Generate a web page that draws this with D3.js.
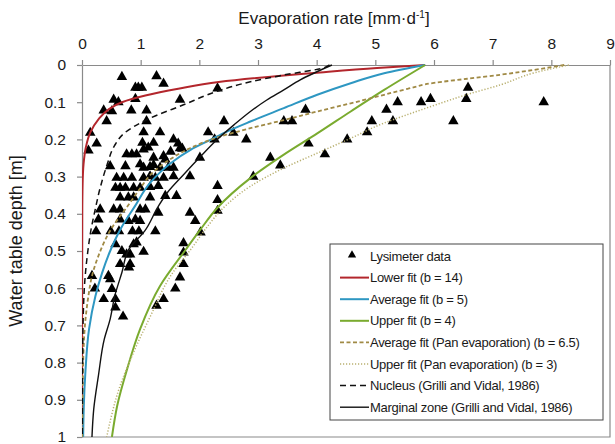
<!DOCTYPE html>
<html>
<head>
<meta charset="utf-8">
<script src="https://cdn.jsdelivr.net/npm/d3@7"></script>
<style>
  body { margin: 0; background: #fff; }
  text { font-family: "Liberation Sans", Arial, sans-serif; fill: #1a1a1a; }
</style>
</head>
<body>
<svg id="chart" width="615" height="444"></svg>
<script>
// ---- data ----
var xTicks = [0, 1, 2, 3, 4, 5, 6, 7, 8, 9];
var yTicks = [0, 0.1, 0.2, 0.3, 0.4, 0.5, 0.6, 0.7, 0.8, 0.9, 1];

// lysimeter data (evaporation rate, depth)
var lysRate = [0.68,1.27,1.39,0.91,0.96,1.02,0.54,0.62,0.91,1.67,0.37,0.51,0.84,1.10,0.42,1.10,0.14,1.05,1.33,0.25,1.03,1.22,1.56,1.64,
  2.31,2.15,2.42,2.58,2.80,2.26,3.44,3.58,3.81,3.86,4.52,4.14,3.21,3.38,2.92,2.31,4.94,4.86,5.19,5.30,5.38,5.78,5.94,6.58,6.55,6.33,7.87,2.31,2.31,1.51,1.71,
  0.11,0.76,0.85,0.93,1.05,1.13,1.22,1.39,1.42,1.67,2.01,0.48,0.74,0.99,1.05,1.16,1.22,1.33,1.47,1.56,0.59,0.71,0.85,1.05,1.16,1.25,1.39,1.56,1.84,
  0.57,0.65,0.74,0.88,0.99,1.16,1.30,1.42,1.61,1.16,0.65,0.79,0.88,0.31,0.54,0.65,0.99,1.08,1.30,1.84,1.93,0.28,0.65,0.79,0.91,0.99,
  0.24,0.49,0.63,0.86,0.97,1.25,2.02,0.57,0.88,0.93,0.68,0.76,0.82,1.05,0.65,0.82,0.80,0.17,0.45,0.48,0.22,0.51,0.37,0.57,0.57,0.70,
  1.73,1.73,1.73,1.67,1.59,1.39,1.27];
var lysDepth = [0.032,0.030,0.050,0.061,0.061,0.061,0.093,0.100,0.091,0.093,0.122,0.124,0.122,0.122,0.151,0.151,0.182,0.181,0.181,0.211,0.209,0.209,0.200,0.211,
  0.063,0.181,0.151,0.182,0.200,0.200,0.151,0.151,0.120,0.211,0.200,0.240,0.249,0.270,0.300,0.325,0.151,0.181,0.120,0.151,0.100,0.100,0.091,0.061,0.091,0.151,0.100,0.363,0.392,0.233,0.225,
  0.230,0.240,0.240,0.240,0.227,0.222,0.249,0.245,0.254,0.224,0.249,0.272,0.272,0.267,0.276,0.274,0.269,0.276,0.276,0.276,0.303,0.303,0.303,0.303,0.299,0.303,0.303,0.299,0.299,
  0.330,0.330,0.330,0.330,0.330,0.328,0.325,0.352,0.352,0.356,0.356,0.356,0.356,0.388,0.388,0.388,0.388,0.388,0.397,0.397,0.419,0.415,0.415,0.419,0.415,0.419,
  0.447,0.447,0.447,0.447,0.447,0.447,0.450,0.482,0.482,0.477,0.500,0.509,0.509,0.502,0.535,0.535,0.544,0.567,0.567,0.576,0.601,0.602,0.629,0.629,0.652,0.676,
  0.479,0.504,0.535,0.571,0.601,0.629,0.647];

// Lower fit (b = 14)
var lowerDepth = [0, 0.008, 0.02, 0.046, 0.064, 0.082, 0.1, 0.12, 0.146, 0.182, 0.222, 0.267, 0.32, 0.4, 0.6, 0.8, 1.0];
var lowerRate  = [5.85, 5.03, 4.06, 2.33, 1.64, 1.08, 0.68, 0.45, 0.28, 0.14, 0.065, 0.026, 0.01, 0.004, 0.002, 0.001, 0.001];

// Average fit (b = 5)
var avgDepth = [0, 0.022, 0.049, 0.08, 0.116, 0.152, 0.179, 0.201, 0.228, 0.264, 0.317, 0.38, 0.44, 0.5, 0.56, 0.62, 0.71, 0.82, 0.92, 1.0];
var avgRate  = [5.85, 5.15, 4.58, 4.01, 3.44, 2.87, 2.47, 2.19, 1.85, 1.51, 1.16, 0.9, 0.66, 0.48, 0.34, 0.23, 0.12, 0.06, 0.03, 0.02];

// Upper fit (b = 4)
var upperDepth = [0, 0.067, 0.125, 0.184, 0.241, 0.304, 0.385, 0.442, 0.496, 0.594, 0.71, 0.817, 0.916, 1.0];
var upperRate  = [5.85, 5.15, 4.58, 4.01, 3.44, 2.87, 2.30, 2.02, 1.77, 1.33, 0.99, 0.77, 0.60, 0.51];

// Average fit, pan evaporation (b = 6.5)
var panAvgDepth = [0, 0.013, 0.026, 0.037, 0.048, 0.064, 0.08, 0.103, 0.125, 0.148, 0.17, 0.195, 0.223, 0.259, 0.295, 0.33, 0.383, 0.44, 0.513, 0.567, 0.62, 0.683, 0.8, 1.0];
var panAvgRate  = [8.22, 7.71, 7.14, 6.57, 6.00, 5.55, 5.15, 4.58, 4.01, 3.44, 2.87, 2.30, 1.85, 1.45, 1.17, 1.0, 0.76, 0.5, 0.28, 0.17, 0.11, 0.06, 0.02, 0.005];

// Upper fit, pan evaporation (b = 3)
var panUpDepth = [0, 0.021, 0.053, 0.079, 0.106, 0.136, 0.156, 0.197, 0.237, 0.277, 0.326, 0.375, 0.442, 0.486, 0.567, 0.674, 0.772, 0.862, 1.0];
var panUpRate  = [8.3, 7.71, 7.14, 6.57, 6.05, 5.5, 5.15, 4.58, 4.01, 3.44, 2.87, 2.47, 2.1, 1.9, 1.51, 1.17, 0.88, 0.65, 0.42];

// Nucleus (Grilli and Vidal, 1986)
var nucDepth = [0, 0.007, 0.027, 0.045, 0.071, 0.107, 0.146, 0.182, 0.218, 0.267, 0.33, 0.392, 0.446, 0.5, 0.576, 0.68, 0.8, 1.0];
var nucRate  = [4.22, 4.13, 3.44, 2.87, 2.30, 1.73, 1.12, 0.73, 0.55, 0.43, 0.31, 0.22, 0.15, 0.1, 0.05, 0.02, 0.01, 0.005];

// Marginal zone (Grilli and Vidal, 1986)
var margDepth = [0, 0.04, 0.067, 0.094, 0.125, 0.161, 0.201, 0.246, 0.295, 0.344, 0.383, 0.446, 0.495, 0.558, 0.62, 0.683, 0.737, 0.835, 0.925, 1.0];
var margRate  = [4.26, 3.72, 3.44, 3.15, 2.87, 2.59, 2.30, 2.02, 1.73, 1.45, 1.29, 1.07, 0.8, 0.68, 0.56, 0.48, 0.38, 0.28, 0.20, 0.17];

var seriesNames = ["Lysimeter data", "Lower fit (b = 14)", "Average fit (b = 5)", "Upper fit (b = 4)",
  "Average fit (Pan evaporation) (b = 6.5)", "Upper fit (Pan evaporation) (b = 3)",
  "Nucleus (Grilli and Vidal, 1986)", "Marginal zone (Grilli and Vidal, 1986)"];

// ---- layout ----
var svg = d3.select("#chart");
var width = 615, height = 444;
var margin = {top: 65, right: 5, bottom: 7, left: 82};
var pw = width - margin.left - margin.right,
    ph = height - margin.top - margin.bottom;

var x = d3.scaleLinear().domain([0, 9]).range([0, pw]);
var y = d3.scaleLinear().domain([0, 1]).range([0, ph]);

var g = svg.append("g").attr("transform", "translate(" + margin.left + "," + margin.top + ")");

svg.append("defs").append("clipPath").attr("id", "plotclip")
  .append("rect").attr("x", 0).attr("y", -1).attr("width", pw).attr("height", ph + 1);

// right and bottom frame
g.append("path")
  .attr("d", "M" + pw + ",0V" + ph + "H0")
  .style("fill", "none").style("stroke", "#8a8a8a").style("stroke-width", 1.2);

var xAxis = g.append("g")
  .call(d3.axisTop(x).tickValues(xTicks).tickSize(5).tickSizeOuter(0).tickPadding(11).tickFormat(d3.format("d")));
var yAxis = g.append("g")
  .call(d3.axisLeft(y).tickValues(yTicks).tickSize(5).tickSizeOuter(0).tickPadding(11).tickFormat(d3.format("~g")));

[xAxis, yAxis].forEach(function(a) {
  a.selectAll("path, line").style("stroke", "#8a8a8a").style("stroke-width", 1.2);
  a.selectAll("text").style("font-size", "15.5px").style("fill", "#1a1a1a")
    .style("font-family", '"Liberation Sans", Arial, sans-serif');
});

// axis titles
var title = svg.append("text")
  .attr("x", margin.left + pw / 2 - 12).attr("y", 24)
  .attr("text-anchor", "middle").style("font-size", "17px");
title.append("tspan").text("Evaporation rate [mm·d");
title.append("tspan").text("-1").attr("dy", -6).style("font-size", "10px");
title.append("tspan").text("]").attr("dy", 6);

svg.append("text")
  .attr("transform", "translate(22," + (margin.top + ph / 2 - 10) + ") rotate(-90)")
  .attr("text-anchor", "middle").style("font-size", "18px")
  .text("Water table depth [m]");

// ---- marks ----
var curves = [
  {name: seriesNames[1], depth: lowerDepth,  rate: lowerRate,  color: "#b3262c", w: 2,   dash: null},
  {name: seriesNames[2], depth: avgDepth,    rate: avgRate,    color: "#2e97c2", w: 2,   dash: null},
  {name: seriesNames[3], depth: upperDepth,  rate: upperRate,  color: "#7aab2f", w: 2,   dash: null},
  {name: seriesNames[4], depth: panAvgDepth, rate: panAvgRate, color: "#a08a45", w: 1.8, dash: "4,2.5"},
  {name: seriesNames[5], depth: panUpDepth,  rate: panUpRate,  color: "#b9b070", w: 1.5, dash: "1.2,1.8"},
  {name: seriesNames[6], depth: nucDepth,    rate: nucRate,    color: "#111",    w: 1.5, dash: "6,4"},
  {name: seriesNames[7], depth: margDepth,   rate: margRate,   color: "#111",    w: 1.4, dash: null}
];

var tri = d3.symbol().type(d3.symbolTriangle).size(48);

g.append("g").selectAll("path")
  .data(lysRate.map(function(r, i) { return [r, lysDepth[i]]; }))
  .enter().append("path")
  .attr("d", tri)
  .attr("transform", function(d) { return "translate(" + x(d[0]) + "," + y(d[1]) + ")"; })
  .style("fill", "#000");

var line = d3.line()
  .x(function(d) { return x(d[0]); })
  .y(function(d) { return y(d[1]); })
  .curve(d3.curveMonotoneY);

g.append("g").attr("clip-path", "url(#plotclip)")
  .selectAll("path")
  .data(curves)
  .enter().append("path")
  .attr("d", function(c) { return line(c.rate.map(function(r, i) { return [r, c.depth[i]]; })); })
  .style("fill", "none")
  .style("stroke", function(c) { return c.color; })
  .style("stroke-width", function(c) { return c.w; })
  .style("stroke-dasharray", function(c) { return c.dash; });

// ---- legend ----
var lg = svg.append("g").attr("transform", "translate(330,244)");
lg.append("rect").attr("width", 273).attr("height", 176)
  .style("fill", "#fff").style("stroke", "#444").style("stroke-width", 1);

var rowY = function(i) { return 12 + i * 21.6; };

lg.append("path").attr("d", tri.size(30))
  .attr("transform", "translate(22," + (rowY(0) - 1) + ")").style("fill", "#000");

lg.selectAll(".leg-line")
  .data(curves)
  .enter().append("line")
  .attr("class", "leg-line")
  .attr("x1", 10).attr("x2", 39)
  .attr("y1", function(c, i) { return rowY(i + 1); })
  .attr("y2", function(c, i) { return rowY(i + 1); })
  .style("stroke", function(c) { return c.color; })
  .style("stroke-width", function(c) { return c.w; })
  .style("stroke-dasharray", function(c) { return c.dash; });

lg.selectAll(".leg-text")
  .data(seriesNames)
  .enter().append("text")
  .attr("class", "leg-text")
  .attr("x", 40)
  .attr("y", function(d, i) { return rowY(i) + 4.5; })
  .style("font-size", "13px")
  .style("letter-spacing", "-0.3px")
  .text(function(d) { return d; });
</script>
</body>
</html>
